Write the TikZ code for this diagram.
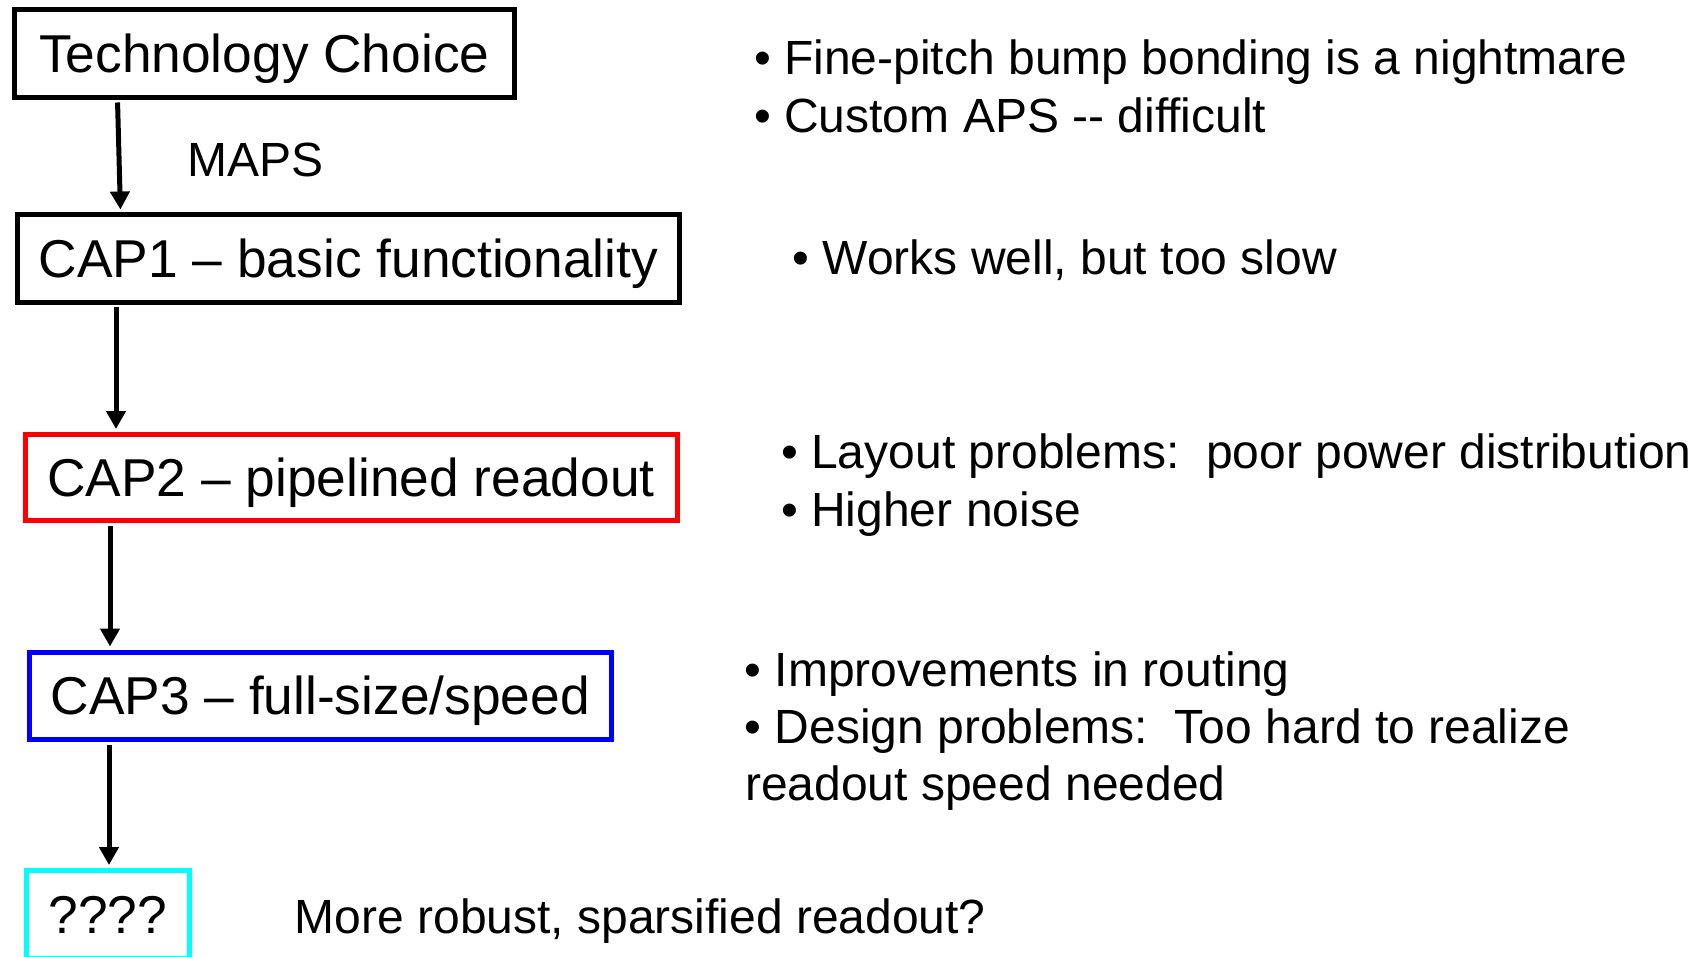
\documentclass[tikz,border=0pt]{standalone}
\usepackage{fontspec}
\setmainfont{Liberation Sans}
\usetikzlibrary{arrows.meta}
\definecolor{pred}{RGB}{255,0,0}
\definecolor{pblue}{RGB}{0,0,255}
\definecolor{pcyan}{RGB}{0,255,255}
\tikzset{
  box/.style={draw, line width=5pt, inner sep=0pt, text height=38.2pt, text depth=0pt,
    font=\fontsize{53.3}{60}\selectfont},
  side/.style={anchor=base west, inner sep=0pt, font=\fontsize{48}{57}\selectfont},
  arr/.style={line width=5pt, -{Triangle[width=19pt,length=18pt]}, shorten <=2.5pt, shorten >=3pt}
}
\begin{document}
\begin{tikzpicture}[x=1pt,y=-1pt]
\useasboundingbox (0,0) rectangle (1707,957);
\clip (0,0) rectangle (1707,957);
% boxes
\node[box, minimum width=499.5pt, minimum height=88pt] (tech) at (264.25,53.5) {Technology Choice};
\node[box, minimum width=662pt, minimum height=87.5pt] (cap1) at (348.5,258.75) {CAP1 – basic functionality};
\node[box, draw=pred, minimum width=652pt, minimum height=86pt] (cap2) at (351,477.5) {CAP2 – pipelined readout};
\node[box, draw=pblue, minimum width=582.5pt, minimum height=87.5pt] (cap3) at (320.25,695.75) {CAP3 – full-size/speed};
\node[box, draw=pcyan, minimum width=162.5pt, minimum height=88pt] (q) at (107.75,914.5) {????};
% connector columns
\coordinate (x1s) at (117.5,0);
\coordinate (x1e) at (120.5,0);
\coordinate (x2) at (116,0);
\coordinate (x3) at (110,0);
\coordinate (x4) at (109,0);
\draw[arr] (tech.south -| x1s) -- (cap1.north -| x1e);
\draw[arr] (cap1.south -| x2) -- (cap2.north -| x2);
\draw[arr] (cap2.south -| x3) -- (cap3.north -| x3);
\draw[arr] (cap3.south -| x4) -- (q.north -| x4);
% labels and notes
\node[side] (maps) at (187.5,176.5) {MAPS};
\node[side] (t1) at (754,75) {• Fine-pitch bump bonding is a nightmare};
\node[side] (t2) at (754,132.5) {• Custom APS -\kern0pt- difficult};
\node[side] (t3) at (792.5,275) {• Works well, but too slow};
\node[side] (t4) at (781,468.3) {• Layout problems:\ \ poor power distribution};
\node[side] (t5) at (781,526) {• Higher noise};
\node[side] (t6) at (744.5,686) {• Improvements in routing};
\node[side] (t7) at (744.5,743) {• Design problems:\ \ Too hard to realize};
\node[side] (t8) at (745,800) {readout speed needed};
\node[side] (t9) at (294.5,933) {More robust, sparsified readout?};
\end{tikzpicture}
\end{document}
